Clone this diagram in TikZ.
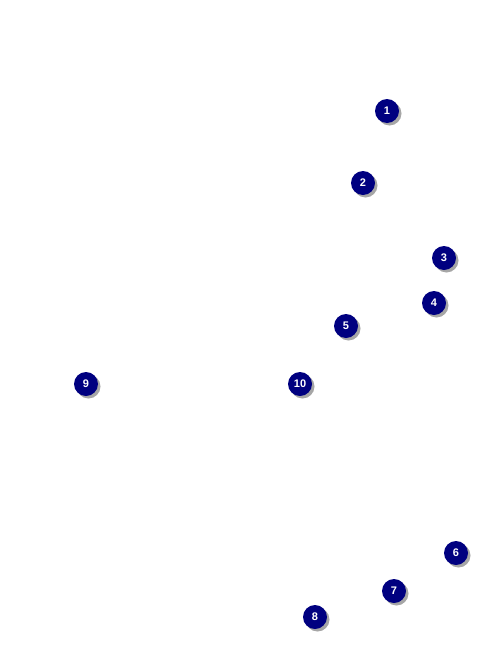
\documentclass[tikz,border=0pt]{standalone}
\usepackage{fontspec}
\setsansfont{Liberation Sans}
\usetikzlibrary{
    shadows,  % drop shadows behind the badges
    positioning,
}

\begin{document}
\begin{tikzpicture}[x=1pt, y=-1pt,
        badge/.style={circle, fill={rgb,255:red,0;green,0;blue,128}, minimum size=24pt, inner sep=0pt,
            text=white, font=\sffamily\bfseries\fontsize{11}{12}\selectfont,
            drop shadow={shadow xshift=2.5pt, shadow yshift=-2.5pt, fill=gray!70, opacity=1}},
    ]
    \useasboundingbox (0, 0) rectangle (486, 648);

    % numbered markers
    \foreach \n/\x/\y in {1/387/111, 2/363/183, 3/444/258, 4/434/303, 5/346/326,
                          6/456/553, 7/394/591, 8/315/617, 9/86/384, 10/300/384}
        \node[badge] (m\n) at (\x, \y) {\n};
\end{tikzpicture}
\end{document}
